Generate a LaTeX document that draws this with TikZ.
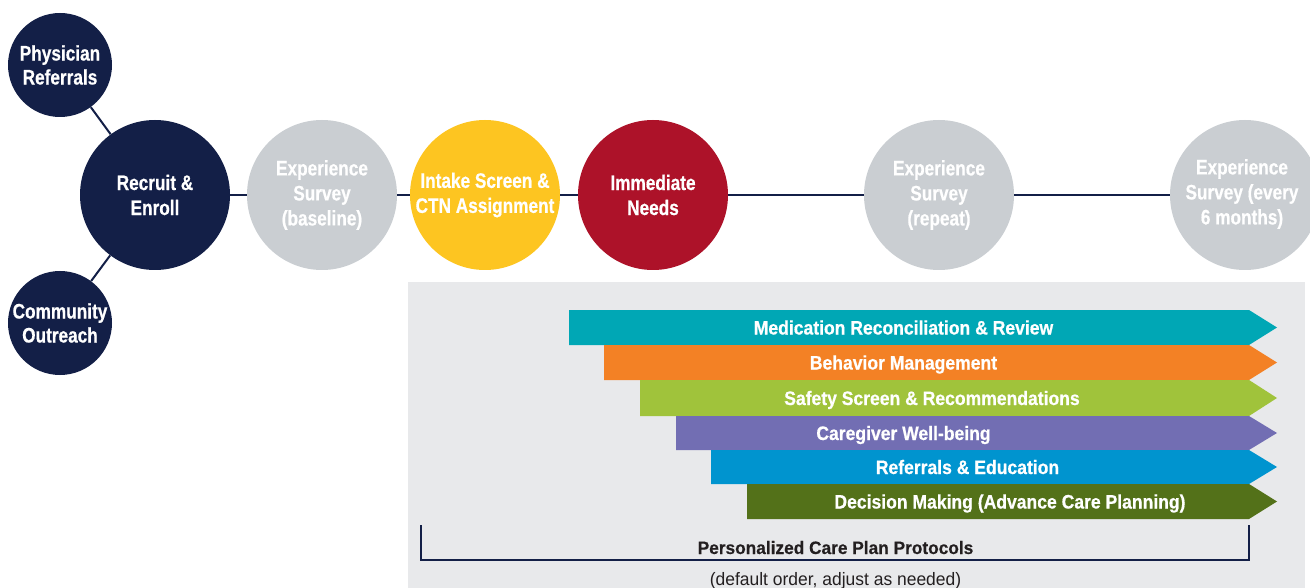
\documentclass[tikz,border=0pt]{standalone}
\usepackage{fontspec}
\setmainfont{Liberation Sans}
\newfontfamily\circfont{Liberation Sans}[FakeStretch=0.82, FakeBold=0.6]
\newfontfamily\barfont{Liberation Sans}[FakeStretch=0.90, FakeBold=0.6]
\newfontfamily\labfont{Liberation Sans}[FakeStretch=0.96, FakeBold=0.4]
\newfontfamily\subfont{Liberation Sans}[FakeStretch=0.97]
\definecolor{cnavy}{HTML}{131F47}
\definecolor{cgrey}{HTML}{CACED2}
\definecolor{cpanel}{HTML}{E8E9EB}
\definecolor{cyellow}{HTML}{FDC521}
\definecolor{cred}{HTML}{AD1229}
\definecolor{cteal}{HTML}{00A7B5}
\definecolor{corange}{HTML}{F38125}
\definecolor{clime}{HTML}{A0C33B}
\definecolor{cpurple}{HTML}{726EB3}
\definecolor{cblue}{HTML}{0094CF}
\definecolor{colive}{HTML}{537119}
\definecolor{ctext}{HTML}{231F20}
\begin{document}
\begin{tikzpicture}[x=1pt,y=-1pt,
  bigcirc/.style={circle, minimum size=150pt, inner sep=0pt, text=white, align=center,
    font=\circfont\bfseries\fontsize{21}{25}\selectfont},
  smallcirc/.style={circle, minimum size=104pt, inner sep=0pt, text=white, align=center, fill=cnavy,
    font=\circfont\bfseries\fontsize{21}{24}\selectfont},
  link/.style={draw=cnavy, line width=2pt},
  bartext/.style={anchor=base, text=white, inner sep=0pt, font=\barfont\bfseries\fontsize{19.5}{22}\selectfont},
  bracket/.style={draw=cnavy, line width=2pt},
]
\clip (0,0) rectangle (1310,588);
\fill[white] (0,0) rectangle (1310,588);
% panel
\fill[cpanel] (408,282) rectangle (1305,588);
% bars
\fill[cteal]   (569,310) -- (1249,310) -- (1277,327.5) -- (1249,345) -- (569,345) -- cycle;
\fill[corange] (604,345) -- (1249,345) -- (1277,362.5) -- (1249,380) -- (604,380) -- cycle;
\fill[clime]   (640,380) -- (1249,380) -- (1277,398) -- (1249,416) -- (640,416) -- cycle;
\fill[cpurple] (676,416) -- (1249,416) -- (1277,433) -- (1249,450) -- (676,450) -- cycle;
\fill[cblue]   (711,450) -- (1249,450) -- (1277,467) -- (1249,484) -- (711,484) -- cycle;
\fill[colive]  (747,484) -- (1249,484) -- (1277,501.5) -- (1249,519) -- (747,519) -- cycle;
\node[bartext] (b1) at (903.5,334.5) {Medication Reconciliation \& Review};
\node[bartext] (b2) at (903.5,369.5) {Behavior Management};
\node[bartext] (b3) at (932,405) {Safety Screen \& Recommendations};
\node[bartext] (b4) at (903.5,440) {Caregiver Well-being};
\node[bartext] (b5) at (967.5,474) {Referrals \& Education};
\node[bartext] (b6) at (1010,508.5) {Decision Making (Advance Care Planning)};
% bracket
\coordinate (brl) at (421,525);
\coordinate (brr) at (1249,525);
\draw[bracket] (brl) -- (brl |- 0,560) -- (brr |- 0,560) -- (brr);
\node[anchor=base, inner sep=0pt, text=ctext, font=\labfont\bfseries\fontsize{18}{20}\selectfont] (lab) at (835.5,554) {Personalized Care Plan Protocols};
\node[anchor=base, inner sep=0pt, text=ctext, font=\subfont\fontsize{18}{20}\selectfont] (sub) at (835.5,585.5) {(default order, adjust as needed)};
% circles
\node[smallcirc] (phys) at (60,65) {Physician\\Referrals};
\node[smallcirc] (comm) at (60,323) {Community\\Outreach};
\node[bigcirc, fill=cnavy] (recruit) at (155,195) {Recruit \&\\Enroll};
\node[bigcirc, fill=cgrey] (base) at (322,195) {Experience\\Survey\\(baseline)};
\node[bigcirc, fill=cyellow] (intake) at (485,195) {Intake Screen \&\\CTN Assignment};
\node[bigcirc, fill=cred] (imm) at (653,195) {Immediate\\Needs};
\node[bigcirc, fill=cgrey] (rep) at (939,195) {Experience\\Survey\\(repeat)};
\node[bigcirc, fill=cgrey] (six) at (1245,195) {};
\node[text=white, align=center, inner sep=0pt, font=\circfont\bfseries\fontsize{21}{25}\selectfont] (sixt) at (1242,194) {Experience\\Survey (every\\6 months)};
% links
\draw[link] (phys) -- (recruit);
\draw[link] (comm) -- (recruit);
\draw[link] (recruit) -- (base);
\draw[link] (base) -- (intake);
\draw[link] (intake) -- (imm);
\draw[link] (imm) -- (rep);
\draw[link] (rep) -- (six);
\end{tikzpicture}
\end{document}
